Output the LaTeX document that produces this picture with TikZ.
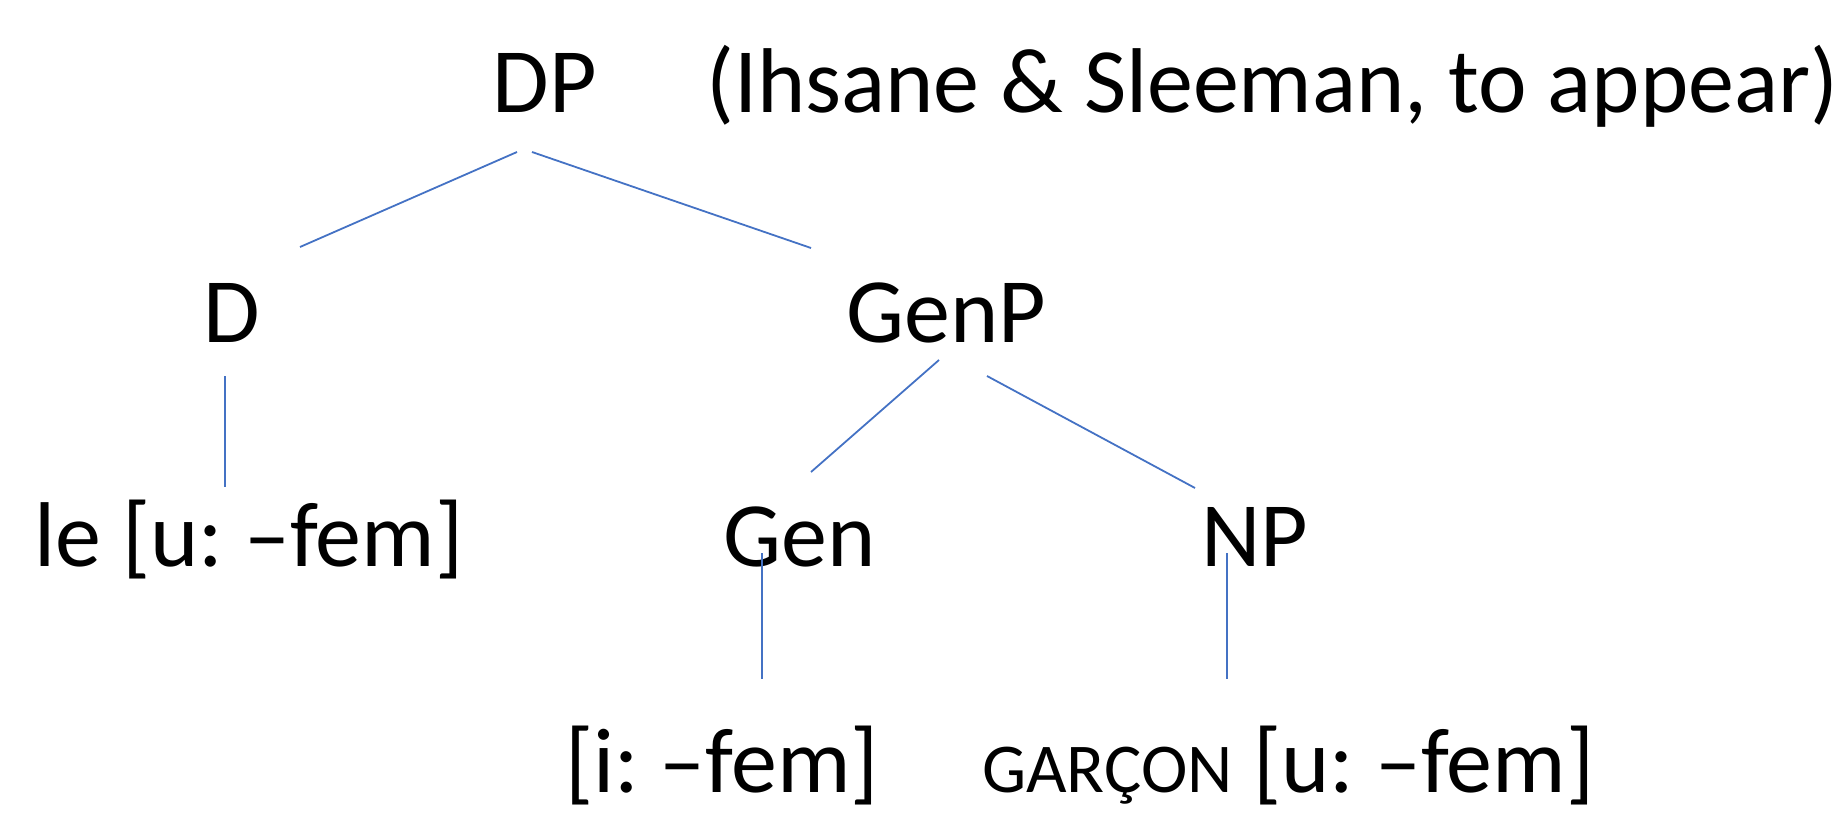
\documentclass[tikz,border=0pt]{standalone}
\usepackage{fontspec}
\setmainfont{Carlito}
\frenchspacing
\definecolor{branch}{HTML}{4472C4}
\begin{document}
\begin{tikzpicture}[x=1pt,y=-1pt,
  lab/.style={inner sep=0pt,anchor=base,font=\fontsize{92}{100}\selectfont},
  branchline/.style={draw=branch,line width=1.8pt}]
\useasboundingbox (0,0) rectangle (1835,813);
% nodes
\node[lab] (DP) at (544.5,113) {DP};
\node[lab,anchor=base west] (cite) at (706,113) {(Ihsane \& Sleeman, to appear)};
\node[lab] (D) at (231.5,342) {D};
\node[lab] (GenP) at (946,342) {GenP};
\node[lab] (le) at (249,566) {le [u: –fem]};
\node[lab] (Gen) at (800,566) {Gen};
\node[lab] (NP) at (1255,566) {NP};
\node[lab,text depth=12pt] (ifem) at (722,792) {[i: –fem]};
\node[lab,anchor=base west,text depth=12pt] (garcon) at (982,792) {{\fontsize{70}{74}\selectfont GARÇON} [u: –fem]};
% connector ends
\coordinate (dpL) at (517,152);
\coordinate (dpR) at (532,152);
\coordinate (dT) at (300,247);
\coordinate (genpT) at (811,248);
\coordinate (genpL) at (939,360);
\coordinate (genpR) at (987,376);
\coordinate (genT) at (811,472);
\coordinate (npT) at (1195,488);
\coordinate (dB) at (225,376);
\coordinate (leT) at (225,487);
\coordinate (genB) at (762,553);
\coordinate (ifemT) at (762,679);
\coordinate (npB) at (1227,553);
\coordinate (garconT) at (1227,679);
% branches
\draw[branchline] (dpL) -- (dT);
\draw[branchline] (dpR) -- (genpT);
\draw[branchline] (genpL) -- (genT);
\draw[branchline] (genpR) -- (npT);
\draw[branchline] (dB) -- (leT);
\draw[branchline] (genB) -- (ifemT);
\draw[branchline] (npB) -- (garconT);
\end{tikzpicture}
\end{document}
